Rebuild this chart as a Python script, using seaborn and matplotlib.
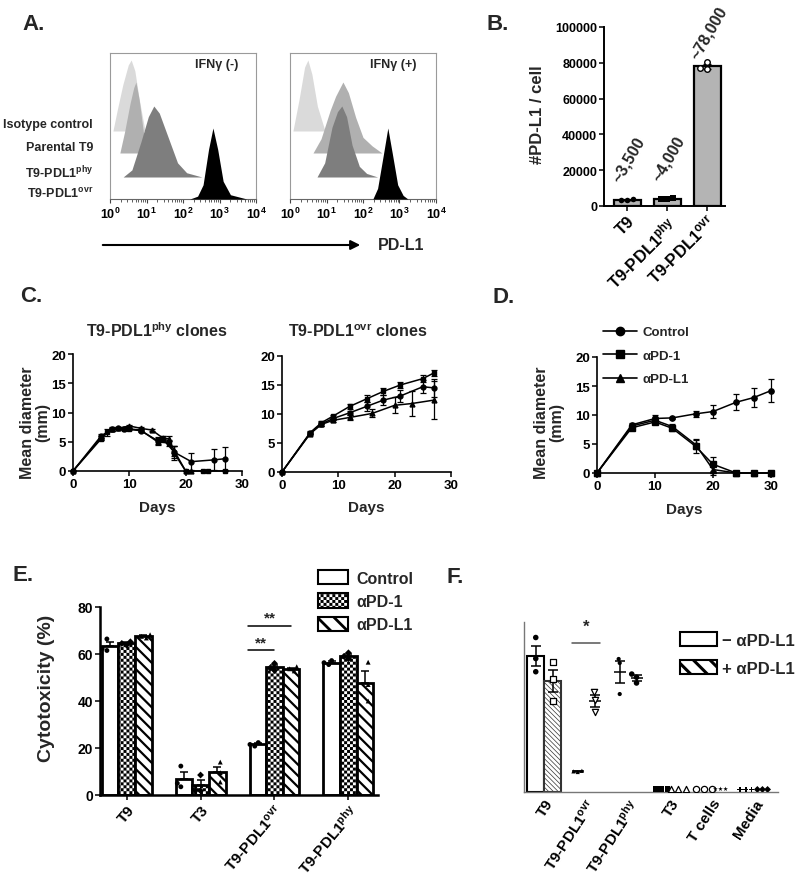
import numpy as np
import pandas as pd
import matplotlib
matplotlib.use("Agg")
import matplotlib.pyplot as plt
import matplotlib.hatch as mhatch
from matplotlib.path import Path
from matplotlib.patches import Patch, FancyArrowPatch
from matplotlib.lines import Line2D
import seaborn as sns

# ---------------- data ----------------
# A: flow histograms (x = log10 PD-L1 intensity, y = relative count)
hist_names = ["Isotype control", "Parental T9", "T9-PDL1$^{phy}$", "T9-PDL1$^{ovr}$"]
hist_colors = ["#dadada", "#b0b0b0", "#7e7e7e", "#000000"]
neg_x = [[0.08, 0.2, 0.35, 0.5, 0.58, 0.68, 0.8, 0.96],
         [0.27, 0.4, 0.55, 0.65, 0.71, 0.8, 0.9, 1.01],
         [0.36, 0.6, 0.85, 1.05, 1.2, 1.35, 1.6, 1.85, 2.1, 2.52],
         [2.19, 2.4, 2.55, 2.7, 2.82, 2.95, 3.1, 3.3, 3.75]]
neg_y = [[0, 0.3, 0.65, 0.93, 1.0, 0.85, 0.45, 0],
         [0, 0.3, 0.7, 0.92, 1.0, 0.75, 0.35, 0],
         [0, 0.1, 0.5, 0.85, 1.0, 0.9, 0.55, 0.2, 0.06, 0],
         [0, 0.04, 0.2, 0.7, 1.0, 0.7, 0.25, 0.06, 0]]
pos_x = [[0.08, 0.25, 0.4, 0.49, 0.6, 0.75, 0.96],
         [0.63, 0.85, 1.1, 1.25, 1.45, 1.6, 1.8, 2.0, 2.25, 2.52],
         [0.74, 0.95, 1.15, 1.3, 1.42, 1.55, 1.7, 1.9, 2.1, 2.4],
         [2.27, 2.4, 2.55, 2.68, 2.8, 2.95, 3.1, 3.23]]
pos_y = [[0, 0.45, 0.9, 1.0, 0.8, 0.35, 0],
         [0, 0.2, 0.6, 0.8, 1.0, 0.85, 0.5, 0.22, 0.1, 0],
         [0, 0.2, 0.7, 0.92, 1.0, 0.85, 0.45, 0.15, 0.05, 0],
         [0, 0.15, 0.6, 1.0, 0.65, 0.2, 0.05, 0]]
a_tags = ["IFNγ (-)", "IFNγ (+)"]

# B
b_cells = ["T9", "T9-PDL1$^{phy}$", "T9-PDL1$^{ovr}$"]
b_reps = [[3300, 3500, 3700], [3700, 3900, 4400], [76300, 77000, 80700]]
b_notes = ["~3,500", "~4,000", "~78,000"]

# C
c_titles = ["T9-PDL1$^{phy}$ clones", "T9-PDL1$^{ovr}$ clones"]
phy_days = [[0, 5, 7, 8, 9, 12, 15, 16, 18, 21, 25, 27],
            [0, 5, 7, 8, 10, 12, 14, 16, 17, 18, 20, 21],
            [0, 5, 6, 7, 9, 10, 12, 15, 17, 18, 20, 23, 24, 27]]
phy_vals = [[0, 6.0, 7.2, 7.3, 7.2, 6.9, 5.2, 5.4, 3.2, 1.6, 1.9, 2.1],
            [0, 5.7, 7.1, 7.3, 7.7, 7.3, 7.0, 5.6, 5.5, 3.4, 0, 0],
            [0, 5.5, 6.6, 7.1, 7.2, 7.2, 7.0, 5.0, 4.8, 3.0, 0, 0, 0, 0]]
phy_err = [[0, 0.3, 0.3, 0.2, 0.2, 0.3, 0.6, 0.5, 1.0, 1.5, 1.8, 2.0],
           [0, 0.2, 0.2, 0.2, 0.2, 0.2, 0.2, 0.4, 0.4, 0.9, 0, 0],
           [0, 0.2, 0.6, 0.2, 0.2, 0.2, 0.2, 0.6, 0.5, 1.2, 0, 0, 0, 0]]
ovr_days = [[0, 5, 7, 9, 12, 15, 18, 21, 25, 27],
            [0, 5, 7, 9, 12, 15, 18, 21, 25, 27],
            [0, 5, 7, 9, 12, 16, 20, 23, 27]]
ovr_vals = [[0, 6.8, 8.5, 9.6, 11.3, 12.6, 13.9, 15.0, 16.1, 17.1],
            [0, 6.7, 8.3, 9.2, 10.2, 11.3, 12.4, 13.1, 14.7, 14.5],
            [0, 6.6, 8.2, 8.9, 9.4, 10.1, 11.5, 11.8, 12.4]]
ovr_err = [[0, 0.2, 0.3, 0.3, 0.4, 0.6, 0.6, 0.6, 0.6, 0.5],
           [0, 0.2, 0.3, 0.3, 0.4, 0.7, 0.8, 1.0, 1.1, 1.5],
           [0, 0.2, 0.3, 0.3, 0.4, 0.7, 1.4, 2.2, 3.3]]

# D
d_groups = ["Control", "αPD-1", "αPD-L1"]
d_days = [0, 6, 10, 13, 17, 20, 24, 27, 30]
d_vals = [[0, 8.3, 9.4, 9.5, 10.2, 10.6, 12.2, 13.0, 14.2],
          [0, 7.8, 8.8, 7.7, 4.6, 1.5, 0, 0, 0],
          [0, 8.1, 9.1, 8.0, 4.9, 0.6, 0, 0, 0]]
d_err = [[0, 0.3, 0.6, 0.2, 0.5, 1.2, 1.4, 1.7, 2.0],
         [0, 0.3, 0.4, 0.4, 1.2, 1.2, 0, 0, 0],
         [0, 0.3, 0.5, 0.4, 0.8, 1.0, 0, 0, 0]]

# E
e_cells = ["T9", "T3", "T9-PDL1$^{ovr}$", "T9-PDL1$^{phy}$"]
e_treats = ["Control", "αPD-1", "αPD-L1"]
e_control = [[61.5, 62.3, 66.4], [3.5, 5.0, 12.3], [20.8, 21.5, 22.3], [55.5, 56.3, 57.2]]
e_pd1 = [[63.8, 64.5, 65.2], [1.8, 2.0, 8.5], [53.0, 54.0, 56.0], [58.0, 59.0, 60.5]]
e_pdl1 = [[66.8, 67.5, 68.2], [5.5, 9.5, 14.0], [52.8, 53.7, 54.6], [40.0, 47.0, 56.5]]

# F
f_cells = ["T9", "T9-PDL1$^{ovr}$", "T9-PDL1$^{phy}$", "T3", "T cells", "Media"]
f_conds = ["− αPD-L1", "+ αPD-L1"]
f_minus = [[56.6, 62.8, 72.7], [9.4, 9.7, 10.0], [46.1, 60.7, 62.6], [1.4, 1.4, 1.4], [1.4, 1.4, 1.4], [1.2, 1.2, 1.2]]
f_plus = [[43.0, 53.2, 61.0], [37.5, 43.5, 47.0], [51.3, 54.0, 55.5], [1.4, 1.4, 1.4], [1.4, 1.4, 1.4], [1.2, 1.2, 1.2]]

# ---------------- style ----------------
sns.set_style("ticks")
plt.rcParams["font.family"] = ["Liberation Sans", "DejaVu Sans"]
plt.rcParams["font.weight"] = "bold"
plt.rcParams["axes.labelweight"] = "bold"
plt.rcParams["mathtext.default"] = "regular"
plt.rcParams["hatch.linewidth"] = 1.6
plt.rcParams["axes.edgecolor"] = "black"
plt.rcParams["xtick.color"] = "black"
plt.rcParams["ytick.color"] = "black"


# checkerboard hatch, bound to the '.' hatch character
class Checker(mhatch.HatchPatternBase):
    def __init__(self, hatch, density):
        self.n = 34 if "." in hatch else 0
        self.num_vertices = (self.n * self.n // 2) * 5
        self.filled = True

    def set_vertices_and_codes(self, vertices, codes):
        n = self.n
        s = 1.0 / n
        k = 0
        for i in range(n):
            for j in range(n):
                if (i + j) % 2 == 0:
                    x0, y0 = i * s, j * s
                    vertices[k:k + 5] = [(x0, y0), (x0 + s, y0), (x0 + s, y0 + s), (x0, y0 + s), (x0, y0)]
                    codes[k] = Path.MOVETO
                    codes[k + 1:k + 4] = Path.LINETO
                    codes[k + 4] = Path.CLOSEPOLY
                    k += 5


mhatch._hatch_types = [t for t in mhatch._hatch_types if t is not mhatch.SmallFilledCircles] + [Checker]


def set_hlw(p, lw):
    if hasattr(p, "set_hatch_linewidth"):
        p.set_hatch_linewidth(lw)


W, H = 800, 879
fig = plt.figure(figsize=(8, 8.79), dpi=100)


def px_rect(x0, y0, x1, y1):
    return [x0 / W, 1 - y1 / H, (x1 - x0) / W, (y1 - y0) / H]


def ftext(x, y, s, **kw):
    fig.text(x / W, 1 - y / H, s, **kw)


def style_ticks(ax, size=9):
    ax.tick_params(axis="both", direction="out", length=3.5, width=1.1, labelsize=size, pad=1.5)


def swarm(ax, open_marker=False, lw=0.9, **kw):
    n0 = len(ax.collections)
    sns.swarmplot(ax=ax, legend=False, **kw)
    for coll in ax.collections[n0:]:
        coll.set_zorder(6)
        if open_marker:
            coll.set_facecolor("white")
            coll.set_edgecolor("black")
            coll.set_linewidth(lw)


# panel letters
for (lx, ly, lt) in [(22, 25, "A."), (486, 25, "B."), (20, 297, "C."), (492, 298, "D."),
                     (13, 576, "E."), (447, 578, "F.")]:
    ftext(lx, ly, lt, fontsize=16, ha="left", va="center")

# ---------------- A ----------------
a_base = [68 / 146, 46 / 146, 22 / 146, 0]
a_h = 71 / 146
a_rects = [(110, 54, 256, 200), (290, 54, 436, 200)]
a_tagx = [0.73, 0.705]
for k, (xs_all, ys_all) in enumerate([(neg_x, neg_y), (pos_x, pos_y)]):
    ax = fig.add_axes(px_rect(*a_rects[k]))
    for i in range(4):
        x = np.array(xs_all[i])
        y = np.array(ys_all[i]) * a_h + a_base[i]
        ax.fill_between(x, a_base[i], y, color=hist_colors[i], lw=0, zorder=2 + i)
    ax.set_xlim(0, 4)
    ax.set_ylim(0, 1)
    for s in ax.spines.values():
        s.set_color("#9a9a9a")
        s.set_linewidth(0.8)
    ax.spines["bottom"].set_color("#666666")
    ax.set_yticks([])
    ax.set_xticks(range(5))
    ax.set_xticklabels([f"10$^{{{e}}}$" for e in range(5)], fontsize=9)
    ax.set_xticks([d + np.log10(m) for d in range(4) for m in range(2, 10)], minor=True)
    ax.tick_params(axis="x", which="major", length=3, width=0.8, pad=2, color="#444444")
    ax.tick_params(axis="x", which="minor", length=1.8, width=0.6, color="#444444")
    ax.text(a_tagx[k], 0.925, a_tags[k], transform=ax.transAxes, ha="center", va="center", fontsize=9)

for name, yy in zip(hist_names, [125, 148, 173, 194]):
    ftext(93, yy, name, ha="right", va="center", fontsize=9)
fig.add_artist(FancyArrowPatch((100 / W, 1 - 246 / H), (363 / W, 1 - 246 / H), transform=fig.transFigure,
                               arrowstyle="-|>", mutation_scale=14, lw=1.5, color="black"))
ftext(378, 246, "PD-L1", ha="left", va="center", fontsize=11.5)

# ---------------- B ----------------
axB = fig.add_axes(px_rect(604, 28, 725, 207))
dfB = pd.DataFrame([(c, v) for c, reps in zip(b_cells, b_reps) for v in reps], columns=["cell", "n"])
sns.barplot(data=dfB, x="cell", y="n", order=b_cells, color="#b4b4b4", saturation=1, edgecolor="black",
            linewidth=1.6, errorbar=None, width=0.675, ax=axB)
b_mean = dfB.groupby("cell", sort=False)["n"].mean()
b_sem = dfB.groupby("cell", sort=False)["n"].sem()
for i, c in enumerate(b_cells):
    axB.errorbar(i, b_mean[c], yerr=b_sem[c], fmt="none", ecolor="black", elinewidth=1, capsize=3, capthick=1, zorder=5)
    axB.text(i + 0.05, b_mean[c] + 19000 + (4000 if i < 2 else 0), b_notes[i], rotation=60, ha="center",
             va="center", rotation_mode="anchor", fontsize=11.5, clip_on=False)
b_markers = ["o", "s", "o"]
b_open = [False, False, True]
for i, c in enumerate(b_cells):
    swarm(axB, open_marker=b_open[i], lw=1, data=dfB[dfB["cell"] == c], x="cell", y="n", order=b_cells,
          color="black", size=4, marker=b_markers[i])
axB.set_xlim(-0.575, 2.45)
axB.set_ylim(0, 100000)
axB.set_yticks(range(0, 100001, 20000))
axB.set_xlabel("")
axB.set_ylabel("")
sns.despine(ax=axB)
for s in ["left", "bottom"]:
    axB.spines[s].set_linewidth(1.4)
style_ticks(axB, 9)
axB.set_xticks(range(3))
axB.set_xticklabels(b_cells, rotation=45, ha="right", rotation_mode="anchor", fontsize=12)
ftext(538, 115, "#PD-L1 / cell", rotation=90, ha="center", va="center", fontsize=12)

# ---------------- C ----------------
c_rects = [(73, 355, 242, 472), (282, 357, 451, 473)]
c_sets = [(phy_days, phy_vals, phy_err, ["o", "^", "s"]), (ovr_days, ovr_vals, ovr_err, ["s", "o", "^"])]
c_titlex = [157, 358]
for k in range(2):
    ax = fig.add_axes(px_rect(*c_rects[k]))
    days_l, vals_l, err_l, mk = c_sets[k]
    for d, v, e, m in zip(days_l, vals_l, err_l, mk):
        ax.errorbar(d, v, yerr=e, color="black", marker=m, ms=3.5, lw=1.1, elinewidth=0.9,
                    capsize=2.2, capthick=0.9, clip_on=False, zorder=3)
    ax.set_xlim(0, 30)
    ax.set_ylim(0, 20)
    ax.set_xticks([0, 10, 20, 30])
    ax.set_yticks([0, 5, 10, 15, 20])
    sns.despine(ax=ax)
    for s in ["left", "bottom"]:
        ax.spines[s].set_linewidth(1.2)
    style_ticks(ax, 9.5)
    ftext(c_titlex[k], 331, c_titles[k], ha="center", va="center", fontsize=11.5)
    ftext((c_rects[k][0] + c_rects[k][2]) / 2, 508, "Days", ha="center", va="center", fontsize=11)
ftext(35, 423, "Mean diameter\n(mm)", rotation=90, ha="center", va="center", fontsize=11.5,
      multialignment="center", linespacing=1.05)

# ---------------- D ----------------
axD = fig.add_axes(px_rect(597, 358, 771, 474))
d_mk = ["o", "s", "^"]
for g, v, e, m in zip(d_groups, d_vals, d_err, d_mk):
    axD.errorbar(d_days, v, yerr=e, color="black", marker=m, ms=3.8, lw=1.1, elinewidth=0.9,
                 capsize=2.5, capthick=0.9, clip_on=False, zorder=3, label=g)
axD.set_xlim(0, 30)
axD.set_ylim(0, 20)
axD.set_xticks([0, 10, 20, 30])
axD.set_yticks([0, 5, 10, 15, 20])
sns.despine(ax=axD)
for s in ["left", "bottom"]:
    axD.spines[s].set_linewidth(1.2)
style_ticks(axD, 9.5)
ftext(684, 510, "Days", ha="center", va="center", fontsize=11)
ftext(549, 423, "Mean diameter\n(mm)", rotation=90, ha="center", va="center", fontsize=11.5,
      multialignment="center", linespacing=1.05)
d_handles = [Line2D([], [], color="black", marker=m, lw=1.2, ms=6) for m in d_mk]
fig.legend(d_handles, d_groups, loc="upper left", bbox_to_anchor=(603 / W, 1 - 327 / H), frameon=False,
           fontsize=9.5, handlelength=2.6, handletextpad=0.4, labelspacing=0.86, borderpad=0, borderaxespad=0)

# ---------------- E ----------------
axE = fig.add_axes(px_rect(100, 608, 378, 796))
rowsE = []
for t, arr in zip(e_treats, [e_control, e_pd1, e_pdl1]):
    for c, reps in zip(e_cells, arr):
        for v in reps:
            rowsE.append((c, t, v))
dfE = pd.DataFrame(rowsE, columns=["cell", "treat", "val"])
sns.barplot(data=dfE, x="cell", y="val", hue="treat", order=e_cells, hue_order=e_treats,
            palette=["white"] * 3, saturation=1, edgecolor="black", linewidth=2, errorbar=None,
            width=0.675, gap=0, legend=False, ax=axE)
e_bars = list(axE.containers[:3])
e_hatch = [None, ".", "\\\\\\"]
for ci, cont in enumerate(e_bars):
    for p in cont:
        if e_hatch[ci]:
            p.set_hatch(e_hatch[ci])
            set_hlw(p, 0.05 if ci == 1 else 1.6)
statE = dfE.groupby(["cell", "treat"])["val"].agg(["mean", "sem"])
for ci, cont in enumerate(e_bars):
    for i, p in enumerate(cont):
        xm = p.get_x() + p.get_width() / 2
        m, se = statE.loc[(e_cells[i], e_treats[ci])]
        axE.errorbar(xm, m, yerr=[[0], [se]], fmt="none", ecolor="black", elinewidth=1.1,
                     capsize=3, capthick=1.1, zorder=5)
e_mk = ["o", "D", "^"]
for ti, t in enumerate(e_treats):
    swarm(axE, data=dfE[dfE["treat"] == t], x="cell", y="val", hue="treat", order=e_cells,
          hue_order=e_treats, dodge=True, palette=["black"] * 3, size=3.5, marker=e_mk[ti])
axE.set_xlim(-0.36, 3.4)
axE.set_ylim(0, 80)
axE.set_yticks([0, 20, 40, 60, 80])
axE.set_xlabel("")
axE.set_ylabel("")
sns.despine(ax=axE)
for s in ["left", "bottom"]:
    axE.spines[s].set_linewidth(1.8)
style_ticks(axE, 10)
axE.set_xticks(range(4))
axE.set_xticklabels(e_cells, rotation=50, ha="right", rotation_mode="anchor", fontsize=11)
# significance
for target, ys in [(2.225, 72), (2.0, 61.5)]:
    axE.plot([2 - 0.36, target], [ys, ys], color="black", lw=1.1)
    axE.text((2 - 0.36 + target) / 2, ys + 3.5, "**", ha="center", va="center", fontsize=11)
ftext(47, 688, "Cytotoxicity (%)", rotation=90, ha="center", va="center", fontsize=14)
e_handles = [Patch(facecolor="white", edgecolor="black", lw=1.5),
             Patch(facecolor="white", edgecolor="black", lw=1.5, hatch="."),
             Patch(facecolor="white", edgecolor="black", lw=1.5, hatch="\\\\")]
set_hlw(e_handles[1], 0.05)
set_hlw(e_handles[2], 2.0)
legE = fig.legend(e_handles, e_treats, loc="upper left", bbox_to_anchor=(318 / W, 1 - 571 / H), frameon=False,
                  fontsize=11.5, handlelength=1.9, handleheight=1.0, handletextpad=0.5, labelspacing=0.48,
                  borderpad=0, borderaxespad=0)
for lp, hp in zip(legE.get_patches(), e_handles):
    if hasattr(hp, "get_hatch_linewidth"):
        set_hlw(lp, hp.get_hatch_linewidth())

# ---------------- F ----------------
axF = fig.add_axes(px_rect(524, 623, 778, 793))
rowsF = []
for cond, arr in zip(f_conds, [f_minus, f_plus]):
    for c, reps in zip(f_cells, arr):
        for v in reps:
            rowsF.append((c, cond, v))
dfF = pd.DataFrame(rowsF, columns=["cell", "cond", "val"])
sns.barplot(data=dfF[dfF["cell"] == f_cells[0]], x="cell", y="val", hue="cond", order=f_cells,
            hue_order=f_conds, palette=["white"] * 2, saturation=1, edgecolor="black", linewidth=1.5,
            errorbar=None, width=0.8, gap=0, legend=False, ax=axF)
for p in list(axF.containers[1]):
    p.set_hatch("\\\\\\\\\\\\\\")
    p.set_edgecolor("#333333")
    set_hlw(p, 0.5)
statF = dfF.groupby(["cell", "cond"])["val"].agg(["mean", "sem"])
for ci, cond in enumerate(f_conds):
    for i, c in enumerate(f_cells[:3]):
        m, se = statF.loc[(c, cond)]
        xm = i + (-0.2 if ci == 0 else 0.2)
        axF.errorbar(xm, m, yerr=se, fmt="none", ecolor="black", elinewidth=1.1, capsize=3.5,
                     capthick=1.1, zorder=5)
        if i > 0:
            axF.errorbar(xm, m, fmt="_", color="black", ms=8, mew=1.1, zorder=5)
f_mk = [["o", "^", "o", "s", "o", "P"], ["s", "v", "o", "^", "*", "D"]]
f_open = [[False, False, False, False, True, False], [True, True, False, True, False, False]]
f_size = [[4, 3, 3, 4, 4.5, 4], [4, 4.5, 4, 4.5, 3.5, 3.5]]
for ci, cond in enumerate(f_conds):
    for i, c in enumerate(f_cells):
        sub = dfF[(dfF["cell"] == c) & (dfF["cond"] == cond)]
        swarm(axF, open_marker=f_open[ci][i], lw=0.9, data=sub, x="cell", y="val", hue="cond", order=f_cells,
              hue_order=f_conds, dodge=True, palette=["black"] * 2, size=f_size[ci][i], marker=f_mk[ci][i])
axF.set_xlim(-0.48, 5.57)
axF.set_ylim(0, 80)
axF.set_yticks([])
axF.set_xlabel("")
axF.set_ylabel("")
sns.despine(ax=axF)
for s in ["left", "bottom"]:
    axF.spines[s].set_linewidth(1.0)
    axF.spines[s].set_color("#777777")
axF.set_xticks(range(6))
axF.set_xticklabels(f_cells, rotation=57, ha="right", rotation_mode="anchor", fontsize=11)
axF.tick_params(axis="x", length=0, pad=3)
axF.plot([0.67, 1.33], [70, 70], color="#555555", lw=1.1)
axF.text(1.0, 78, "*", ha="center", va="center", fontsize=12)
f_handles = [Patch(facecolor="white", edgecolor="black", lw=1.5),
             Patch(facecolor="white", edgecolor="black", lw=1.5, hatch="\\\\")]
set_hlw(f_handles[1], 2.2)
legF = fig.legend(f_handles, f_conds, loc="upper left", bbox_to_anchor=(680 / W, 1 - 633 / H), frameon=False,
                  fontsize=12, handlelength=2.2, handleheight=0.9, handletextpad=0.3, labelspacing=0.73,
                  borderpad=0, borderaxespad=0)
for lp in legF.get_patches()[1:]:
    set_hlw(lp, 2.2)

fig.savefig("out.png", dpi=100)
